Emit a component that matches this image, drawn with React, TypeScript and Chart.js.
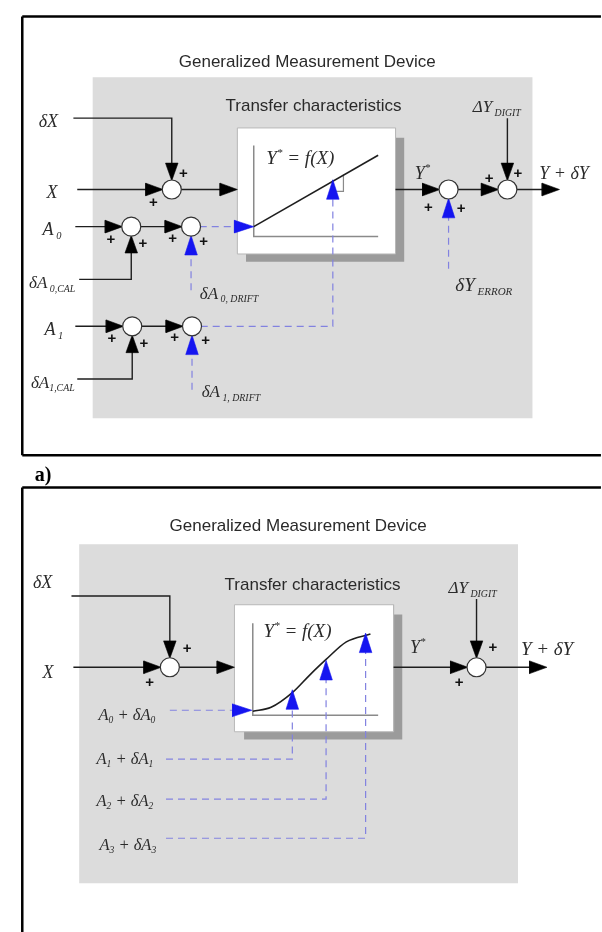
import { useEffect, useRef } from 'react';
import { Chart, registerables } from 'chart.js';
Chart.register(...registerables);

type P = [number, number];

// ---- geometry data (diagram coordinates, 602 x 932 space) ----
const FRAME_LINES: P[][] = [
  [[12, 6], [612, 6]], [[12, 6], [12, 455]], [[12, 455], [612, 455]],
  [[12, 488], [612, 488]], [[12, 488], [12, 945]],
];
const GRAY_BOXES: number[][] = [[85, 68, 541, 417], [71, 546, 526, 893]];
const SHADOW_BOXES: number[][] = [[244, 130, 408, 257], [242, 618, 406, 746]];
const WHITE_BOXES: number[][] = [[235, 120, 399, 249], [232, 608, 397, 738]];
const GRAPH_AXES: P[][] = [
  [[252, 138], [252, 231], [381, 231]],
  [[251, 627], [251, 721], [381, 721]],
];
const SLOPE_MARK: P[] = [[334, 185], [345, 185], [345, 168]];
const CURVE_LINEAR: P[] = [[252, 221], [381, 148]];
const CURVE_S: P[] = [[251, 717], [270, 713], [292, 698], [310, 680], [327, 664], [348, 646], [373, 638]];

const WIRES: P[][] = [
  [[65, 110], [167, 110], [167, 170]],
  [[69, 183], [155, 183]],
  [[176, 183], [230, 183]],
  [[67, 221], [112, 221]],
  [[134, 221], [174, 221]],
  [[71, 275], [125, 275], [125, 234]],
  [[67, 323], [113, 323]],
  [[135, 323], [175, 323]],
  [[69, 377], [126, 377], [126, 336]],
  [[399, 183], [441, 183]],
  [[463, 183], [502, 183]],
  [[515, 110], [515, 170]],
  [[524, 183], [565, 183]],
  [[63, 599], [165, 599], [165, 659]],
  [[65, 672], [152, 672]],
  [[174, 672], [228, 672]],
  [[397, 672], [470, 672]],
  [[483, 602], [483, 659]],
  [[492, 672], [552, 672]],
];
const DASHES: P[][] = [
  [[196, 221], [236, 221]],
  [[187, 286], [187, 246]],
  [[197, 323], [334, 323], [334, 190]],
  [[188, 388], [188, 348]],
  [[454, 264], [454, 208]],
  [[165, 716], [232, 716]],
  [[161, 766], [292, 766], [292, 714]],
  [[161, 807], [327, 807], [327, 684]],
  [[161, 847], [368, 847], [368, 655]],
];
// arrow tips: x, y, direction
const BLACK_ARROWS: [number, number, string][] = [
  [167, 174, 'd'], [158, 183, 'r'], [235, 183, 'r'],
  [116, 221, 'r'], [178, 221, 'r'], [125, 230, 'u'],
  [117, 323, 'r'], [179, 323, 'r'], [126, 332, 'u'],
  [445, 183, 'r'], [506, 183, 'r'], [515, 174, 'd'], [569, 183, 'r'],
  [165, 663, 'd'], [156, 672, 'r'], [232, 672, 'r'],
  [474, 672, 'r'], [483, 663, 'd'], [556, 672, 'r'],
];
const BLUE_ARROWS: [number, number, string][] = [
  [252, 221, 'r'], [187, 230, 'u'], [188, 332, 'u'], [334, 173, 'u'], [454, 192, 'u'],
  [250, 716, 'r'], [292, 695, 'u'], [327, 665, 'u'], [368, 637, 'u'],
];
const JUNCTIONS: P[] = [
  [167, 183], [125, 221], [187, 221], [126, 323], [188, 323], [454, 183], [515, 183],
  [165, 672], [483, 672],
];
const PLUS_SIGNS: P[] = [
  [179, 167], [148, 197], [104, 235], [137, 239], [168, 234], [200, 237],
  [105, 336], [138, 341], [170, 335], [202, 338], [433, 202], [467, 203], [496, 172], [526, 167],
  [183, 653], [144, 688], [500, 652], [465, 688],
];
// text: x, y, text, size, align
const TEXT_LABELS: [number, number, string, number, string][] = [
  [307.5, 53, 'Generalized Measurement Device', 17, 'center'],
  [314, 98, 'Transfer characteristics', 17, 'center'],
  [298, 528, 'Generalized Measurement Device', 17, 'center'],
  [313, 588, 'Transfer characteristics', 17, 'center'],
];
// math labels: x, y, size, parts [text, kind] (m main, s sub, p sup)
const MATH_LABELS: [number, number, number, [string, string][]][] = [
  [29, 113, 18, [['δX', 'm']]],
  [37, 186, 18, [['X', 'm']]],
  [33, 224, 18, [['A', 'm'], [' 0', 's']]],
  [19, 278, 17, [['δA', 'm'], [' 0,CAL', 's']]],
  [196, 289, 17, [['δA', 'm'], [' 0, DRIFT', 's']]],
  [35, 326, 18, [['A', 'm'], [' 1', 's']]],
  [21, 380, 17, [['δA', 'm'], ['1,CAL', 's']]],
  [198, 390, 17, [['δA', 'm'], [' 1, DRIFT', 's']]],
  [265, 150, 19, [['Y', 'm'], ['*', 'p'], [' = f(X)', 'm']]],
  [419, 166, 18, [['Y', 'm'], ['*', 'p']]],
  [479, 98, 17, [['ΔY', 'm'], [' DIGIT', 's']]],
  [548, 166, 18, [['Y + δY', 'm']]],
  [461, 280, 19, [['δY', 'm'], [' ERROR', 's']]],
  [23, 585, 18, [['δX', 'm']]],
  [33, 677, 18, [['X', 'm']]],
  [91, 720, 16.5, [['A', 'm'], ['0', 's'], [' + δA', 'm'], ['0', 's']]],
  [89, 765, 16.5, [['A', 'm'], ['1', 's'], [' + δA', 'm'], ['1', 's']]],
  [89, 808, 16.5, [['A', 'm'], ['2', 's'], [' + δA', 'm'], ['2', 's']]],
  [92, 853, 16.5, [['A', 'm'], ['3', 's'], [' + δA', 'm'], ['3', 's']]],
  [262, 635, 19, [['Y', 'm'], ['*', 'p'], [' = f(X)', 'm']]],
  [414, 651, 18, [['Y', 'm'], ['*', 'p']]],
  [454, 590, 17, [['ΔY', 'm'], [' DIGIT', 's']]],
  [529, 653, 19, [['Y + δY', 'm']]],
];
const PANEL_TAG: [number, number, string] = [25, 476, 'a)'];

// ---- styles ----
const INK = '#1e1e1e';
const BLUE = '#1515f0';
const DASH_BLUE = '#8282e0';
const GRAY_BG = '#dcdcdc';
const SHADOW = '#9b9b9b';
const AXIS_GRAY = '#8a8a8a';
const SERIF = '"Liberation Serif", "Times New Roman", serif';
const SANS = '"Liberation Sans", Arial, sans-serif';

const pts = (a: P[]) => a.map(([x, y]) => ({ x, y }));

function lineDs(points: P[], color: string, width: number, order: number, dash: number[] = [], tension = 0) {
  return {
    type: 'line', data: pts(points), borderColor: color, borderWidth: width, borderDash: dash,
    pointRadius: 0, fill: false, tension, order, showLine: true, clip: false,
    cubicInterpolationMode: tension ? 'monotone' : 'default',
  };
}
function shapeDs(points: P[], color: string, order: number, stroke = 'transparent', sw = 0) {
  return {
    type: 'line', data: pts([...points, points[0]]), backgroundColor: color, borderColor: stroke,
    borderWidth: sw, fill: 'shape', pointRadius: 0, tension: 0, order, showLine: true, clip: false,
  };
}
const rectPts = (r: number[]): P[] => [[r[0], r[1]], [r[2], r[1]], [r[2], r[3]], [r[0], r[3]]];
function arrowPts(x: number, y: number, d: string, L: number, W: number): P[] {
  if (d === 'r') return [[x, y], [x - L, y - W], [x - L, y + W]];
  if (d === 'l') return [[x, y], [x + L, y - W], [x + L, y + W]];
  if (d === 'd') return [[x, y], [x - W, y - L], [x + W, y - L]];
  return [[x, y], [x - W, y + L], [x + W, y + L]];
}

const textPlugin = {
  id: 'diagramText',
  afterDatasetsDraw(chart: any) {
    const { ctx } = chart;
    const sx = chart.scales.x, sy = chart.scales.y;
    ctx.save();
    ctx.textBaseline = 'middle';
    for (const [x, y, t, size, align] of TEXT_LABELS) {
      ctx.font = `${size}px ${SANS}`;
      ctx.fillStyle = '#2a2a2a';
      ctx.textAlign = align;
      ctx.fillText(t, sx.getPixelForValue(x), sy.getPixelForValue(y));
    }
    ctx.fillStyle = '#111';
    ctx.textAlign = 'center';
    ctx.font = `bold 15px ${SANS}`;
    for (const [x, y] of PLUS_SIGNS) ctx.fillText('+', sx.getPixelForValue(x), sy.getPixelForValue(y));
    ctx.textAlign = 'left';
    ctx.textBaseline = 'alphabetic';
    ctx.fillStyle = '#2b2b2b';
    for (const [x, y, size, parts] of MATH_LABELS) {
      let px = sx.getPixelForValue(x);
      const base = sy.getPixelForValue(y) + size * 0.33;
      for (const [t, kind] of parts) {
        let fs = size, dy = 0;
        if (kind === 's') { fs = size * 0.58; dy = size * 0.22; }
        if (kind === 'p') { fs = size * 0.6; dy = -size * 0.42; }
        ctx.font = `italic ${fs}px ${SERIF}`;
        ctx.fillText(t, px, base + dy);
        px += ctx.measureText(t).width;
      }
    }
    ctx.font = `bold 20px ${SERIF}`;
    ctx.fillStyle = '#000';
    ctx.textBaseline = 'middle';
    ctx.fillText(PANEL_TAG[2], sx.getPixelForValue(PANEL_TAG[0]), sy.getPixelForValue(PANEL_TAG[1]));
    ctx.restore();
  },
};

export default function App() {
  const ref = useRef<HTMLCanvasElement>(null);
  useEffect(() => {
    document.body.style.margin = '0';
    const datasets: any[] = [];
    GRAY_BOXES.forEach(r => datasets.push(shapeDs(rectPts(r), GRAY_BG, 100)));
    SHADOW_BOXES.forEach(r => datasets.push(shapeDs(rectPts(r), SHADOW, 90)));
    WHITE_BOXES.forEach(r => datasets.push(shapeDs(rectPts(r), '#ffffff', 80, '#b8b8b8', 1)));
    GRAPH_AXES.forEach(p => datasets.push(lineDs(p, AXIS_GRAY, 1.5, 70)));
    datasets.push(lineDs(SLOPE_MARK, AXIS_GRAY, 1.2, 70));
    datasets.push(lineDs(CURVE_LINEAR, INK, 1.6, 60));
    datasets.push(lineDs(CURVE_S, INK, 1.6, 60, [], 0.4));
    FRAME_LINES.forEach(p => datasets.push(lineDs(p, '#000', 2.5, 55)));
    WIRES.forEach(p => datasets.push(lineDs(p, INK, 1.4, 50)));
    DASHES.forEach(p => datasets.push(lineDs(p, DASH_BLUE, 1.2, 50, [7, 5])));
    BLACK_ARROWS.forEach(([x, y, d]) => datasets.push(shapeDs(arrowPts(x, y, d, 18, 6.5), '#000', 40, '#000', 0.6)));
    BLUE_ARROWS.forEach(([x, y, d]) => datasets.push(shapeDs(arrowPts(x, y, d, 20, 6.5), BLUE, 40, BLUE, 0.6)));
    datasets.push({
      type: 'scatter', data: pts(JUNCTIONS), pointRadius: 9.5, pointStyle: 'circle',
      pointBackgroundColor: '#ffffff', pointBorderColor: '#333', pointBorderWidth: 1.2,
      showLine: false, order: 10, clip: false,
    });
    const chart = new Chart(ref.current!, {
      type: 'scatter',
      data: { datasets },
      options: {
        animation: false,
        responsive: false,
        events: [],
        layout: { padding: 0 },
        plugins: { legend: { display: false }, tooltip: { enabled: false } },
        scales: {
          x: { type: 'linear', min: 0, max: 602, display: false },
          y: { type: 'linear', min: 0, max: 932, reverse: true, display: false },
        },
      },
      plugins: [textPlugin],
    } as any);
    return () => chart.destroy();
  }, []);
  return (
    <div style={{ position: 'absolute', left: 0, top: 0, width: 602, height: 932, background: '#fff' }}>
      <canvas ref={ref} width={602} height={932} style={{ display: 'block' }} />
    </div>
  );
}
